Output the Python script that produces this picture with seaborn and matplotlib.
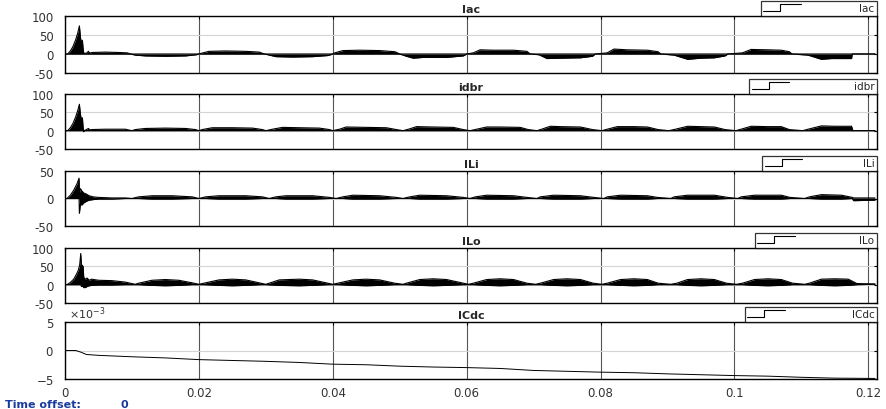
import numpy as np
import seaborn as sns
import matplotlib
matplotlib.use('Agg')
import matplotlib.pyplot as plt
from matplotlib.lines import Line2D
from matplotlib.legend_handler import HandlerBase

# envelopes (time in ms, upper / lower edge of the black band)
iac_t = [0, 0.4, 0.8, 1.2, 1.6, 1.9, 2.15, 2.3, 2.45, 2.6, 2.7, 2.8, 3.2, 3.5, 3.7, 4, 6, 8, 9.3,
         9.8, 10.5, 12, 15, 18, 19.6, 20, 20.4, 21.5, 24, 27, 29, 29.8,
         30.3, 31.5, 34, 37, 39.3, 40, 40.3, 41.5, 44, 47, 49.3, 50,
         51, 52, 53.5, 57, 59.5, 60, 61, 62, 64, 67, 69, 69.5,
         70.8, 72, 74, 77, 78.8, 79.2, 81, 82, 84, 87, 88.6, 89,
         91, 93, 95, 97, 98.6, 99, 101.2, 102.5, 105, 107, 108.2, 108.6,
         111, 113, 114.5, 117.5, 117.6, 121]
iac_hi = [0, 0, 8, 20, 38, 55, 74, 45, 28, 36, 15, 2, 2, 7, 2, 4, 5, 4, 3,
          0, 0, 0, 0, 0, 0, 0, 2, 7, 8, 7, 5, 0,
          0, 0, 0, 0, 0, 0, 3, 9, 10, 9, 6, 0,
          0, 0, 0, 0, 0, 0, 3, 11, 10, 10, 7, 0,
          0, 0, 0, 0, 0, 0, 3, 13, 11, 10, 6, 0,
          0, 0, 0, 0, 0, 0, 3, 12, 11, 10, 6, 0,
          0, 0, 0, 0, 0, 0]
iac_lo = [0, 0, 0, 0, 0, 0, 0, 0, 0, 0, 0, 0, 0, 0, 0, 0, 0, 0, 0,
          0, -3, -5, -6, -5, -2, 0, 0, 0, 0, 0, 0, 0,
          -2, -7, -8, -7, -4, 0, 0, 0, 0, 0, 0, 0,
          -6, -11, -9, -9, -5, 0, 0, 0, 0, 0, 0, 0,
          -2, -12, -11, -10, -6, 0, 0, 0, 0, 0, 0, 0,
          -3, -14, -11, -10, -5, 0, 0, 0, 0, 0, 0, 0,
          -3, -14, -12, -12, 0, 0]

idbr_t = [0, 0.4, 0.8, 1.2, 1.6, 1.9, 2.15, 2.3, 2.45, 2.6, 2.7, 2.8, 2.9, 3.5, 3.7,
          4, 6, 9, 10, 10.5, 12, 15, 18, 19.5, 20, 20.5, 22, 25, 28, 29.5, 30,
          31, 32.5, 35, 38, 39.5, 40, 41, 42, 45, 48, 49.5, 50.5,
          51.5, 52.5, 55, 58, 59.5, 60.5, 61.5, 63, 65, 68, 69.2, 70.5,
          71.2, 72.5, 74, 77, 78.8, 80.2, 81, 82.5, 85, 87, 88.6, 90.2,
          91.2, 93, 95, 97, 98.6, 100.2, 101, 102.5, 105, 107, 108.2, 110.2,
          111, 113, 115, 117.5, 117.7, 121]
idbr_hi = [0, 0, 8, 20, 38, 55, 72, 45, 30, 35, 10, 0, 0, 6, 2,
           3, 4, 4, 0, 3, 6, 7, 6, 3, 0, 3, 8, 8, 7, 3, 0,
           4, 9, 8, 7, 3, 0, 4, 10, 9, 8, 3, 0,
           5, 11, 10, 9, 3, 0, 4, 10, 10, 9, 3, 0,
           4, 12, 11, 10, 3, 0, 4, 11, 11, 10, 3, 0,
           4, 12, 11, 10, 3, 0, 4, 12, 11, 11, 3, 0,
           4, 13, 12, 12, 0, 0]
idbr_lo = [0, 0, 0, 0, 0, 0, 0, 0, 0, 0, 0, -3, 0, 0, 0,
           0, 0, 0, 0, 0, 0, 0, 0, 0, 0, 0, 0, 0, 0, 0, 0,
           0, 0, 0, 0, 0, 0, 0, 0, 0, 0, 0, 0,
           0, 0, 0, 0, 0, 0, 0, 0, 0, 0, 0, 0,
           0, 0, 0, 0, 0, 0, 0, 0, 0, 0, 0, 0,
           0, 0, 0, 0, 0, 0, 0, 0, 0, 0, 0, 0,
           0, 0, 0, 0, 0, 0]

ili_t = [0, 0.3, 0.8, 1.3, 1.8, 2.1, 2.15, 2.3, 2.5, 2.8, 3.2, 3.6, 4.2, 5, 7, 9, 10,
         11, 13, 16, 19, 20, 21, 23, 27, 29.5, 30.5, 31.5, 33, 37, 39.5, 40.5,
         41.5, 43, 47, 49.5, 50.5, 51.5, 53, 57, 59.5, 60.5,
         61.3, 63, 67, 69, 70.5, 71, 73, 77, 79, 80.5, 81, 83, 87, 88.5, 90.5,
         91, 93, 97, 99, 100.5, 101, 103, 107, 108.3, 110.5,
         111.2, 113, 116, 117.6, 117.8, 121]
ili_hi = [0, 0, 6, 15, 27, 37, 10, 18, 14, 10, 8, 5, 3, 2, 1, 1, 0,
          3, 5, 5, 3, 0, 3, 5, 5, 3, 0, 3, 5, 5, 2, 0,
          3, 6, 5, 2, 0, 3, 6, 5, 2, 0,
          3, 6, 5, 2, 0, 3, 6, 5, 2, 0, 3, 6, 5, 2, 0,
          3, 6, 6, 2, 0, 3, 6, 6, 2, 0,
          3, 7, 6, 2, 1, 1]
ili_lo = [0, 0, 0, 0, 0, 0, -27, -10, -12, -8, -5, -3, -2, -1, -1, 0, 0,
          0, -1, -1, 0, 0, 0, -1, -1, 0, 0, 0, -1, -1, 0, 0,
          0, -1, -1, 0, 0, 0, -1, -1, 0, 0,
          0, -1, -1, 0, 0, 0, -1, -1, 0, 0, 0, -1, -1, 0, 0,
          0, -1, -1, 0, 0, 0, -1, -1, 0, 0,
          0, -1, -1, 0, -4, -3]

ilo_t = [0, 0.3, 0.8, 1.3, 1.7, 2.0, 2.2, 2.35, 2.45, 2.7, 2.8, 3.0, 3.3, 3.6, 4, 5, 7, 9, 10.5,
         11, 13, 15, 17, 19, 20, 20.75, 23, 25, 27, 29.25, 30, 32, 35, 37, 39.25, 40,
         40.75, 43, 45, 47, 49.25, 50.5, 51, 53, 55, 57, 59.5, 60.3,
         61, 63, 65, 67, 69, 70.3, 71, 73, 75, 77, 78.9, 80.2,
         81, 83, 85, 87, 88.6, 90.5, 91.4, 93, 95, 97, 98.8, 100.3,
         101.2, 103, 105, 107, 108.7, 110.5, 111.2, 113, 115, 117, 118.3, 121]
ilo_hi = [0, 0, 6, 15, 28, 40, 55, 85, 55, 50, 20, 15, 18, 12, 15, 12, 11, 7, 1,
          4, 12, 14, 12, 5, 1, 4, 13, 15, 13, 4, 1, 13, 15, 13, 4, 1,
          4, 13, 15, 13, 4, 1, 4, 14, 16, 14, 4, 1,
          4, 14, 16, 14, 4, 1, 4, 14, 16, 14, 4, 1,
          4, 14, 16, 14, 4, 1, 4, 14, 16, 14, 4, 1,
          4, 14, 16, 14, 4, 1, 4, 15, 16, 15, 3, 2]
ilo_lo = [0, 0, 0, 0, 0, 0, 0, 0, -5, -5, -8, -8, -5, -3, -2, -1, -1, 0, 0,
          0, -2, -3, -2, 0, 0, 0, -2, -3, -2, 0, 0, -2, -3, -2, 0, 0,
          0, -2, -3, -2, 0, 0, 0, -2, -3, -2, 0, 0,
          0, -2, -3, -2, 0, 0, 0, -2, -3, -2, 0, 0,
          0, -2, -3, -2, 0, 0, 0, -2, -3, -2, 0, 0,
          0, -2, -3, -2, 0, 0, 0, -2, -3, -2, 0, 1]

icdc_t = [0, 1.6, 2.4, 3.2, 5, 10, 15, 20, 25, 30, 35, 40, 45, 50, 55, 60,
          65, 70, 75, 80, 85, 90, 95, 100, 105, 110, 115, 121]
icdc_v = [0, 0, -0.3, -0.7, -0.85, -1.1, -1.3, -1.6, -1.75, -1.9, -2.1, -2.4, -2.5, -2.75, -2.9, -3.0,
          -3.15, -3.5, -3.65, -3.8, -3.9, -4.1, -4.25, -4.4, -4.5, -4.7, -4.85, -4.9]  # x 1e-3

titles = ['Iac', 'idbr', 'ILi', 'ILo', 'ICdc']
ylims = [(-50, 100), (-50, 100), (-50, 50), (-50, 100), (-5e-3, 5e-3)]
yticks = [[-50, 0, 50, 100], [-50, 0, 50, 100], [-50, 0, 50], [-50, 0, 50, 100], [-5e-3, 0, 5e-3]]
xticks = [0, 0.02, 0.04, 0.06, 0.08, 0.1, 0.12]
xtick_labels = ['0', '0.02', '0.04', '0.06', '0.08', '0.1', '0.12']

sns.set_style('white')
plt.rcParams['font.family'] = ['DejaVu Sans']
plt.rcParams['axes.unicode_minus'] = False


class StepHandler(HandlerBase):
    def create_artists(self, legend, orig_handle, xdescent, ydescent, width, height, fontsize, trans):
        x0, y0 = -xdescent, -ydescent
        xs = [x0, x0 + 0.45 * width, x0 + 0.45 * width, x0 + width]
        ys = [y0, y0, y0 + height, y0 + height]
        return [Line2D(xs, ys, color='k', lw=0.8, transform=trans)]


fig = plt.figure(figsize=(8.86, 4.10), dpi=100)
# axes boxes (pixels from top)
boxes = [(17, 74), (95, 150), (172, 227), (249, 304), (323, 380)]
text_pads = [5.6, 6.2, 5.8, 6.2, 6.4]

signals = [(iac_t, iac_hi, iac_lo), (idbr_t, idbr_hi, idbr_lo), (ili_t, ili_hi, ili_lo),
           (ilo_t, ilo_hi, ilo_lo)]

for i, (top, bot) in enumerate(boxes):
    ax = fig.add_axes([65 / 886, 1 - bot / 410, 812 / 886, (bot - top) / 410])
    if i < 4:
        t, hi, lo = signals[i]
        ts = np.array(t) / 1000
        ax.fill_between(ts, lo, hi, color='k', lw=0, zorder=3)
        sns.lineplot(x=ts, y=hi, ax=ax, color='k', lw=0.8, estimator=None, sort=False, zorder=3)
        sns.lineplot(x=ts, y=lo, ax=ax, color='k', lw=0.8, estimator=None, sort=False, zorder=3)
    else:
        ts = np.array(icdc_t) / 1000
        sns.lineplot(x=ts, y=np.array(icdc_v) * 1e-3, ax=ax, color='k', lw=0.7,
                     estimator=None, sort=False, zorder=3)
        ax.ticklabel_format(axis='y', style='sci', scilimits=(0, 0), useMathText=True)
        ax.yaxis.get_offset_text().set_fontsize(8)
        ax.yaxis.get_offset_text().set_color('#555555')
        ax.yaxis.get_offset_text().set_x(0.005)

    ax.set_xlim(0, 0.1213)
    ax.set_ylim(*ylims[i])
    ax.set_yticks(yticks[i])
    ax.set_xticks(xticks)
    if i == 4:
        ax.set_xticklabels(xtick_labels)
    else:
        ax.set_xticklabels([])
    ax.grid(axis='x', color='#555555', lw=0.8, zorder=1)
    ax.grid(axis='y', color='#d4d4d4', lw=0.8, zorder=1)
    ax.tick_params(direction='in', length=2.5, top=True, right=True, labelsize=8.5,
                   colors='k', labelcolor='#333333')
    ax.tick_params(axis='y', pad=8)
    ax.tick_params(axis='x', pad=5)
    for s in ax.spines.values():
        s.set_color('k')
        s.set_linewidth(1.0)
        s.set_visible(True)
    ax.set_xlabel('')
    ax.set_ylabel('')
    ax.set_title(titles[i], fontsize=8, fontweight='bold', pad=3)

    h = Line2D([], [], color='k')
    leg = ax.legend([h], [titles[i]], handler_map={h: StepHandler()}, loc='lower right',
                    bbox_to_anchor=(1, 1), borderaxespad=0, fontsize=7.5, frameon=True,
                    fancybox=False, handlelength=3.6, handleheight=0.6, handletextpad=text_pads[i],
                    borderpad=0.25)
    leg.get_frame().set_edgecolor('k')
    leg.get_frame().set_linewidth(0.9)

fig.text(0.006, 0.0, 'Time offset:', fontsize=8, fontweight='bold', color='#1a3a9e', va='bottom')
fig.text(120 / 886, 0.0, '0', fontsize=8, fontweight='bold', color='#1a3a9e', va='bottom')

fig.savefig('out.png', dpi=100)
